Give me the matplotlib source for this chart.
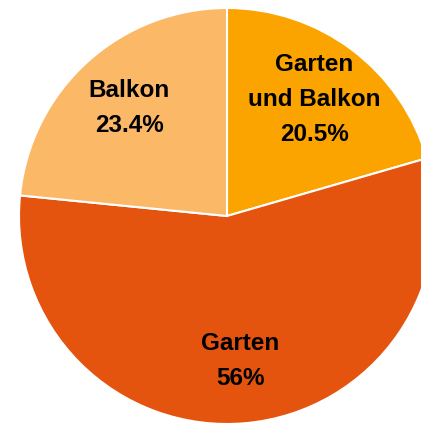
import matplotlib.pyplot as plt

# Daten
kategorien = ["Garten\nund Balkon", "Garten", "Balkon"]
anteile = [20.5, 56.0, 23.4]
prozent_texte = ["20.5%", "56%", "23.4%"]
farben = ["#FBA400", "#E4540E", "#FBB866"]

plt.rcParams['font.family'] = ['Liberation Sans', 'DejaVu Sans']

fig = plt.figure(figsize=(4.21, 4.23), dpi=100)
ax = fig.add_axes([0, 0, 1, 1])

beschriftungen = [f"{k}\n{p}" for k, p in zip(kategorien, prozent_texte)]
wedges, texte = ax.pie(anteile, labels=beschriftungen, colors=farben,
                       startangle=90, counterclock=False, radius=1,
                       labeldistance=0.70,
                       wedgeprops=dict(edgecolor="white", linewidth=1.5))
for t in texte:
    t.set_ha("center")
    t.set_va("center")
    t.set_fontsize(17.5)
    t.set_fontweight("bold")
    t.set_linespacing(1.65)
    t.set_color("black")

# Ausschnitt wie im Original (Kreis rechts abgeschnitten)
r = 208
ax.set_xlim(-227 / r, 194 / r)
ax.set_ylim(-207 / r, 216 / r)
ax.set_aspect("auto")
ax.axis("off")

fig.savefig("out.png", dpi=100)
